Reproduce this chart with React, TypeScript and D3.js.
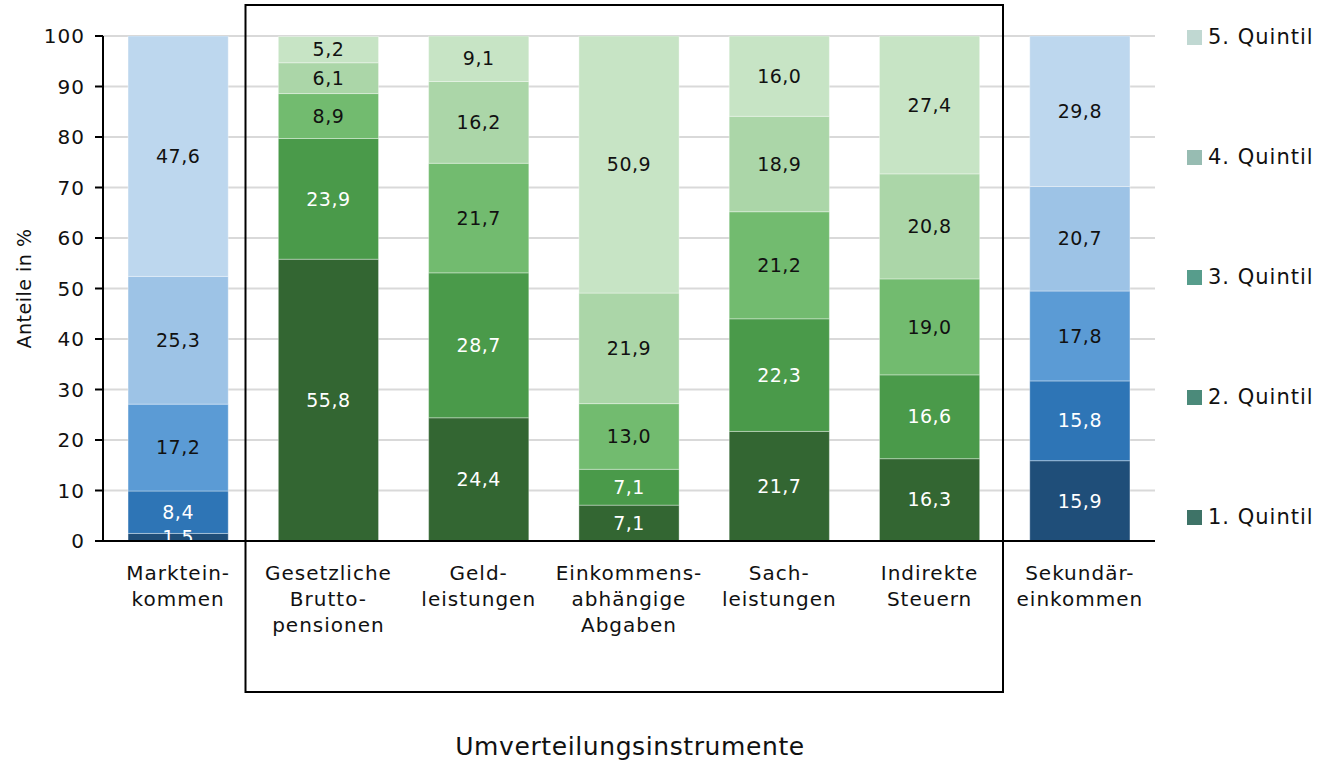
import React from 'react';
import * as d3 from 'd3';

const categories = [
  ['Marktein-', 'kommen'],
  ['Gesetzliche', 'Brutto-', 'pensionen'],
  ['Geld-', 'leistungen'],
  ['Einkommens-', 'abhängige', 'Abgaben'],
  ['Sach-', 'leistungen'],
  ['Indirekte', 'Steuern'],
  ['Sekundär-', 'einkommen'],
];
const quintiles = ['1. Quintil', '2. Quintil', '3. Quintil', '4. Quintil', '5. Quintil'];

// shares per category, quintile 1..5
const q1 = [1.5, 55.8, 24.4, 7.1, 21.7, 16.3, 15.9];
const q2 = [8.4, 23.9, 28.7, 7.1, 22.3, 16.6, 15.8];
const q3 = [17.2, 8.9, 21.7, 13.0, 21.2, 19.0, 17.8];
const q4 = [25.3, 6.1, 16.2, 21.9, 18.9, 20.8, 20.7];
const q5 = [47.6, 5.2, 9.1, 50.9, 16.0, 27.4, 29.8];
const yTicks = [0, 10, 20, 30, 40, 50, 60, 70, 80, 90, 100];

const blues = ['#1f4e79', '#2e75b6', '#5b9bd5', '#9dc3e6', '#bdd7ee'];
const greens = ['#336632', '#4a9a4a', '#72bb6f', '#abd6a8', '#c7e4c5'];
const legendColors = ['#3e7367', '#4b8a7a', '#579d8c', '#97bcb2', '#c0d8d2'];

const font = '"DejaVu Sans", sans-serif';

export default function App() {
  const width = 1322;
  const height = 760;
  const margin = { left: 103, right: 167, top: 36, bottom: 219 };
  const x = d3
    .scaleBand<number>()
    .domain(d3.range(categories.length))
    .range([margin.left, width - margin.right])
    .paddingInner(1 / 3)
    .paddingOuter(1 / 6);
  const y = d3.scaleLinear().domain([0, 100]).range([height - margin.bottom, margin.top]);

  const series = [q1, q2, q3, q4, q5];
  const rows = categories.map((_, i) => {
    const r: Record<string, number> = {};
    series.forEach((s, k) => (r['q' + k] = s[i]));
    return r;
  });
  const stack = d3.stack<Record<string, number>>().keys(series.map((_, k) => 'q' + k));
  const stacked = stack(rows);

  const x0 = margin.left;
  const x1 = width - margin.right;

  return (
    <svg width={width} height={height} style={{ position: 'absolute', left: 0, top: 0, background: '#fff' }}>
      <defs>
        <clipPath id="plot">
          <rect x={x0} y={y(100)} width={x1 - x0} height={y(0) - y(100)} />
        </clipPath>
      </defs>
      {yTicks.map((t) => (
        <g key={t}>
          {t > 0 && <line x1={x0} x2={x1} y1={y(t)} y2={y(t)} stroke="#d9d9d9" strokeWidth={2} />}
          <line x1={x0 - 8} x2={x0} y1={y(t)} y2={y(t)} stroke="#000" strokeWidth={2} />
          <text
            x={x0 - 18}
            y={y(t)}
            dy="0.35em"
            textAnchor="end"
            fontFamily={font}
            fontSize={20}
            letterSpacing={1}
            fill="#111"
          >
            {t}
          </text>
        </g>
      ))}
      <g clipPath="url(#plot)">
        {stacked.map((layer, k) =>
          layer.map((d, i) => {
            const pal = i === 0 || i === 6 ? blues : greens;
            const top = Math.min(d[1], 100);
            return (
              <rect
                key={k + '-' + i}
                x={x(i)}
                y={y(top)}
                width={x.bandwidth()}
                height={y(d[0]) - y(top)}
                fill={pal[k]}
                stroke="#ffffff"
                strokeOpacity={0.35}
                strokeWidth={1}
              />
            );
          })
        )}
        {stacked.map((layer, k) =>
          layer.map((d, i) => {
            const top = Math.min(d[1], 100);
            return (
              <text
                key={'t' + k + '-' + i}
                x={(x(i) as number) + x.bandwidth() / 2}
                y={y((d[0] + top) / 2)}
                dy="0.35em"
                textAnchor="middle"
                fontFamily={font}
                fontSize={19}
                letterSpacing={0.5}
                fill={k < 2 ? '#ffffff' : '#111'}
              >
                {series[k][i].toFixed(1).replace('.', ',')}
              </text>
            );
          })
        )}
      </g>
      <line x1={x0} x2={x0} y1={y(100)} y2={y(0)} stroke="#000" strokeWidth={2} />
      <line x1={x0} x2={x1} y1={y(0)} y2={y(0)} stroke="#000" strokeWidth={2} />
      {categories.map((lines, i) => (
        <text
          key={'c' + i}
          x={(x(i) as number) + x.bandwidth() / 2}
          y={580}
          textAnchor="middle"
          fontFamily={font}
          fontSize={20}
          letterSpacing={1}
          fill="#111"
        >
          {lines.map((l, j) => (
            <tspan key={j} x={(x(i) as number) + x.bandwidth() / 2} dy={j === 0 ? 0 : 26}>
              {l}
            </tspan>
          ))}
        </text>
      ))}
      <rect x={245.5} y={5} width={757.5} height={687} fill="none" stroke="#000" strokeWidth={2} />
      <text
        transform={`translate(31,${(y(0) + y(100)) / 2}) rotate(-90)`}
        textAnchor="middle"
        fontFamily={font}
        fontSize={19}
        letterSpacing={0.5}
        fill="#111"
      >
        Anteile in %
      </text>
      <text x={630} y={755} textAnchor="middle" fontFamily={font} fontSize={25} letterSpacing={0.6} fill="#111">
        Umverteilungsinstrumente
      </text>
      {quintiles
        .slice()
        .reverse()
        .map((q, j) => {
          const k = 4 - j;
          const cy = 37 + j * 120;
          return (
            <g key={q}>
              <rect x={1187} y={cy - 7} width={15} height={15} fill={legendColors[k]} />
              <text x={1208} y={cy} dy="0.35em" fontFamily={font} fontSize={21} letterSpacing={1} fill="#111">
                {q}
              </text>
            </g>
          );
        })}
    </svg>
  );
}
